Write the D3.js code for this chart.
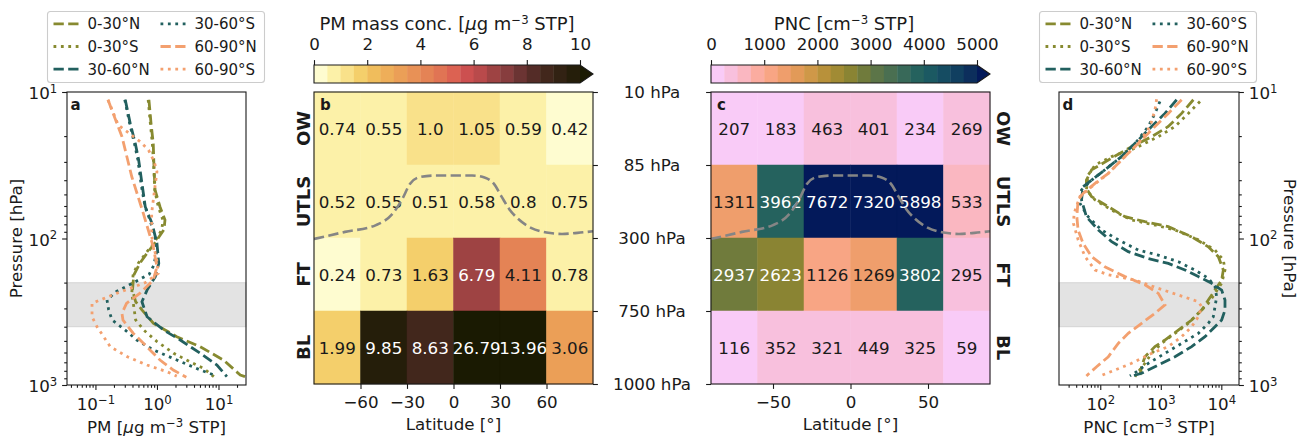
<!DOCTYPE html>
<html>
<head>
<meta charset="utf-8">
<script src="https://cdn.jsdelivr.net/npm/d3@7"></script>
<style>
  body { margin: 0; background: #fff; }
  text { font-family: "DejaVu Sans", sans-serif; }
</style>
</head>
<body>
<svg id="fig" width="1299" height="437"></svg>
<script>
// ---- data ----
const latEdges = [-90, -60, -30, 0, 30, 60, 90];
const layerNames = ['OW', 'UTLS', 'FT', 'BL'];
const layerEdges = [10, 85, 300, 750, 1000];
const layerLabels = ['10 hPa', '85 hPa', '300 hPa', '750 hPa', '1000 hPa'];

// rows OW, UTLS, FT, BL; columns 90S..90N in 30 deg bins
const pmGrid = [
  [0.74, 0.55, 1.0, 1.05, 0.59, 0.42],
  [0.52, 0.55, 0.51, 0.58, 0.8, 0.75],
  [0.24, 0.73, 1.63, 6.79, 4.11, 0.78],
  [1.99, 9.85, 8.63, 26.79, 13.96, 3.06]
];
const pncGrid = [
  [207, 183, 463, 401, 234, 269],
  [1311, 3962, 7672, 7320, 5898, 533],
  [2937, 2623, 1126, 1269, 3802, 295],
  [116, 352, 321, 449, 325, 59]
];

// tropopause [lat, hPa]
const tropopause = [[-90, 306], [-70, 282], [-50, 262], [-40, 232], [-33, 185], [-28, 140], [-22, 121],
  [-12, 116], [0, 116], [12, 116], [20, 122], [26, 140], [31, 178], [36, 215], [42, 245], [50, 270],
  [60, 284], [70, 288], [80, 285], [90, 280]];

const regions = ['0-30°N', '0-30°S', '30-60°N', '30-60°S', '60-90°N', '60-90°S'];
const bandP = [200, 400];

// PM profiles [hPa, ug m-3]
const pm0_30N = [[11.3, 0.74], [16.3, 0.8], [22.4, 0.87], [30.5, 0.89], [46.6, 0.93], [60.7, 1.12], [74.8, 1.35], [87, 1.3],
  [107, 0.93], [126, 0.69], [147, 0.53], [178, 0.42], [225, 0.4], [270, 0.45], [307, 0.57], [380, 0.88], [468, 2.1],
  [547, 5.0], [675, 12], [855, 22.6], [877, 27]];
const pm0_30S = [[11.3, 0.72], [16.3, 0.78], [22.4, 0.84], [30.5, 0.88], [46.6, 0.92], [60.7, 1.05], [74.8, 1.25], [87, 1.2],
  [107, 0.9], [126, 0.66], [147, 0.5], [175, 0.41], [237, 0.39], [292, 0.42], [359, 0.45], [422, 0.61], [505, 1.0],
  [608, 1.87], [697, 3.5], [770, 5.7], [877, 8.4]];
const pm30_60N = [[11.3, 0.305], [16.4, 0.368], [22.4, 0.444], [29.1, 0.504], [42, 0.57], [60.7, 0.645], [78.8, 0.83],
  [108, 1.0], [148, 1.07], [182, 0.94], [225, 0.69], [270, 0.57], [342, 0.69], [422, 1.29], [493, 2.39], [608, 5.06],
  [731, 9.43], [877, 13.7]];
const pm30_60S = [[11.3, 0.3], [16.4, 0.36], [22.4, 0.43], [29, 0.49], [42, 0.55], [60.7, 0.64], [74.8, 0.77], [97, 0.93],
  [120, 1.0], [152, 0.89], [175, 0.75], [200, 0.42], [230, 0.22], [262, 0.154], [307, 0.164], [359, 0.186], [422, 0.305],
  [493, 0.47], [577, 0.88], [675, 2.1], [790, 5.06], [868, 9.4]];
const pm60_90N = [[11.3, 0.16], [20.2, 0.27], [37.9, 0.39], [67.3, 0.6], [114, 0.87], [156, 1.0], [192, 0.87], [236, 0.53],
  [277, 0.32], [324, 0.27], [360, 0.28], [443, 0.41], [547, 0.68], [675, 1.12], [790, 1.84], [886, 3.0]];
const pm60_90S = [[11.3, 0.16], [16.8, 0.235], [21.8, 0.53], [24.9, 0.73], [29.9, 0.9], [35, 1.0], [44, 0.93], [67, 0.82],
  [97, 0.82], [140, 0.99], [173, 1.05], [200, 0.65], [237, 0.22], [277, 0.088], [342, 0.088], [400, 0.106], [547, 0.174],
  [641, 0.33], [731, 0.69], [811, 1.45], [870, 2.1]];

// PNC profiles [hPa, cm-3]
const pnc0_30N = [[11.3, 3450], [14, 2210], [17.2, 1330], [20.2, 705], [23.6, 330], [29.1, 136], [34, 72], [39.9, 59],
  [45.5, 59], [51.8, 72], [60.7, 136], [71, 256], [76.8, 547], [83, 1330], [97.2, 3235], [114, 6100], [133, 8920],
  [164, 10800], [192, 10130], [225, 7860], [263, 6100], [308, 4730], [360, 3235], [422, 1946], [493, 1172], [547, 801],
  [641, 547], [750, 482], [855, 453]];
const pnc0_30S = [[11.6, 4440], [14, 2850], [17.2, 1715], [20.2, 910], [24.2, 374], [27.6, 154], [31.5, 82], [36.9, 63],
  [46.6, 59], [54.6, 82], [63.9, 154], [74.8, 330], [80.9, 801], [87.5, 1715], [102, 4170], [120, 7860], [140, 10800],
  [164, 11500], [202, 10130], [237, 7860], [277, 6100], [324, 4170], [379, 2850], [444, 1715], [520, 1032], [608, 705],
  [711, 547], [811, 425], [877, 374]];
const pnc30_60N = [[11.3, 1830], [14, 1172], [17.2, 705], [21.3, 425], [27.6, 225], [34, 119], [39.9, 72], [44.3, 52],
  [54.6, 49], [71, 59], [87.5, 93], [105, 154], [123, 290], [137, 621], [148, 1330], [164, 2510], [182, 4170],
  [202, 6920], [225, 10130], [263, 11500], [308, 11500], [360, 10130], [400, 7860], [468, 5370], [547, 3235],
  [641, 1715], [730, 910], [832, 482], [877, 309]];
const pnc30_60S = [[11.6, 968], [14, 801], [17.2, 621], [21.8, 399], [27.6, 225], [34, 119], [39.9, 72], [46.6, 49],
  [57.5, 46], [71, 63], [87.5, 105], [102, 198], [120, 425], [130, 910], [144, 1946], [164, 3670], [187, 6100],
  [213, 7860], [250, 8370], [292, 7860], [342, 7380], [379, 6100], [444, 4170], [520, 2210], [608, 1172], [711, 621],
  [811, 399], [867, 309]];
const pnc60_90N = [[11.3, 2210], [14, 1330], [17.2, 801], [21.3, 482], [27.6, 256], [35.9, 136], [42, 82], [49.2, 52],
  [54.6, 43], [71, 41], [87.5, 43], [108, 52], [133, 72], [156, 119], [182, 256], [207, 547], [237, 910], [284, 1172],
  [324, 801], [379, 482], [444, 290], [520, 198], [641, 136], [750, 87], [867, 59]];
const pnc60_90S = [[11.2, 853], [13.3, 801], [17.2, 662], [22.4, 425], [27.6, 256], [35.9, 136], [44.3, 72], [51.8, 46],
  [67.3, 37], [78.8, 36], [102, 43], [133, 56], [164, 82], [177, 136], [192, 374], [219, 910], [243, 1946], [270, 4170],
  [292, 4730], [342, 4170], [400, 3235], [468, 2210], [547, 1330], [608, 705], [711, 330], [790, 175], [877, 93]];

// ---- styling ----
const INK = '#1a1a1a';
const FS = 16.7;
const olive = '#878a30', teal = '#22605f', salmon = '#f3a06f';
const regionColor = [olive, olive, teal, teal, salmon, salmon];
const DASHED = '10.3,4.4', DOTTED = '2.8,4.6';
const regionDash = [DASHED, DOTTED, DASHED, DOTTED, DASHED, DOTTED];

const pmColors = ['#fefcd0', '#fcf1a8', '#f9e18a', '#f4cf6b', '#f0bd5c', '#eeae59', '#eb9f57', '#e89156', '#e48355',
  '#e07454', '#dc6252', '#cc5050', '#b94a4b', '#9e4343', '#873d3e', '#6b3433', '#542c27', '#42271c', '#322213',
  '#251e0a', '#1a1a02'];
const pncColors = ['#f9cbf7', '#f8c0dd', '#fab7c1', '#fbaca0', '#f8a584', '#ef9e6c', '#e29a58', '#cf9848', '#b8913a',
  '#a18b34', '#8a8433', '#707b3c', '#5c7548', '#4a6f51', '#386959', '#25625e', '#1b5962', '#154c62', '#103f60',
  '#0c2e5c', '#03195a'];

const svg = d3.select('#fig');

function styleAxis(g) {
  g.attr('font-family', '"DejaVu Sans", sans-serif').attr('font-size', FS).style('color', INK);
  g.select('.domain').remove();
  g.selectAll('.tick line').attr('stroke-width', 1.1);
}

function powLabels(g) {
  g.selectAll('.tick text').each(function (d) {
    const t = d3.select(this);
    const e = Math.round(Math.log10(d));
    t.text(null);
    t.append('tspan').text('10');
    t.append('tspan').attr('dy', '-0.55em').attr('font-size', '0.7em').text(String(e).replace('-', '\u2212'));
  });
}

function minorLogTicks(lo, hi) {
  const out = [];
  for (let e = Math.floor(Math.log10(lo)); e <= Math.ceil(Math.log10(hi)); e++) {
    for (let m = 2; m <= 9; m++) {
      const v = m * Math.pow(10, e);
      if (v >= lo && v <= hi) out.push(v);
    }
  }
  return out;
}

// unit label with a "-3" superscript
function unitLabel(sel, pre, mu, mid, post) {
  sel.append('tspan').text(pre);
  if (mu) sel.append('tspan').attr('font-style', 'italic').text('\u03bc');
  sel.append('tspan').text(mid);
  sel.append('tspan').attr('dy', -6.5).attr('font-size', FS * 0.7).text('\u22123');
  sel.append('tspan').attr('dy', 6.5).text(post);
}

// ---- profile panels (a, d) ----
function profilePanel(opt) {
  const { left, right, top, bottom, xDomain, series, side, xMajors, letter, xlabel } = opt;
  const x = d3.scaleLog().domain(xDomain).range([left, right]);
  const y = d3.scaleLog().domain([10, 1000]).range([top, bottom]);
  const g = svg.append('g');

  const clipId = 'clip' + letter;
  svg.append('clipPath').attr('id', clipId).append('rect')
    .attr('x', left).attr('y', top).attr('width', right - left).attr('height', bottom - top);

  g.append('rect')
    .attr('x', left).attr('width', right - left)
    .attr('y', y(bandP[0])).attr('height', y(bandP[1]) - y(bandP[0]))
    .attr('fill', '#808080').attr('fill-opacity', 0.22)
    .attr('stroke', '#808080').attr('stroke-opacity', 0.2).attr('stroke-width', 1.2);

  const line = d3.line().x(d => x(d[1])).y(d => y(d[0]));
  g.append('g').attr('clip-path', `url(#${clipId})`)
    .selectAll('path').data(series).join('path')
    .attr('d', d => line(d))
    .attr('fill', 'none')
    .attr('stroke', (d, i) => regionColor[i])
    .attr('stroke-dasharray', (d, i) => regionDash[i])
    .attr('stroke-width', 2.8);

  // x axis
  const xMaj = g.append('g').attr('transform', `translate(0,${bottom})`)
    .call(d3.axisBottom(x).tickValues(xMajors).tickSize(4.9).tickPadding(8.2));
  styleAxis(xMaj);
  powLabels(xMaj);
  const xMin = g.append('g').attr('transform', `translate(0,${bottom})`)
    .call(d3.axisBottom(x).tickValues(minorLogTicks(xDomain[0], xDomain[1])).tickSize(2.8).tickFormat(''));
  styleAxis(xMin);

  // y axis
  const yAx = side === 'left' ? d3.axisLeft(y) : d3.axisRight(y);
  const yx = side === 'left' ? left : right;
  const yMaj = g.append('g').attr('transform', `translate(${yx},0)`)
    .call(yAx.tickValues([10, 100, 1000]).tickSize(4.9).tickPadding(4.9));
  styleAxis(yMaj);
  yMaj.selectAll('.tick text').attr('dy', '0.4em');
  powLabels(yMaj);
  const yAx2 = side === 'left' ? d3.axisLeft(y) : d3.axisRight(y);
  const yMin = g.append('g').attr('transform', `translate(${yx},0)`)
    .call(yAx2.tickValues(minorLogTicks(10, 1000)).tickSize(2.8).tickFormat(''));
  styleAxis(yMin);

  g.append('rect').attr('x', left).attr('y', top).attr('width', right - left).attr('height', bottom - top)
    .attr('fill', 'none').attr('stroke', INK).attr('stroke-width', 1.1);

  g.append('text').attr('x', left + 3.5).attr('y', top + 18).attr('font-weight', 'bold')
    .attr('font-size', 15).attr('fill', INK).text(letter);

  const xl = g.append('text').attr('x', (left + right) / 2).attr('y', 433)
    .attr('text-anchor', 'middle').attr('font-size', FS).attr('fill', INK);
  xlabel(xl);

  const ylx = side === 'left' ? 22 : 1284;
  g.append('text')
    .attr('transform', `translate(${ylx},${(top + bottom) / 2}) rotate(${side === 'left' ? -90 : 90})`)
    .attr('text-anchor', 'middle').attr('font-size', FS).attr('fill', INK)
    .text('Pressure [hPa]');
}

// ---- heatmap panels (b, c) ----
const HT = 92, HB = 384;
const yLayer = d3.scaleLinear().domain(layerEdges).range(d3.range(5).map(i => HT + i * (HB - HT) / 4));

function heatPanel(opt) {
  const { left, right, grid, colors, vmax, fmt, xTicks, letter, side } = opt;
  const x = d3.scaleLinear().domain([-90, 90]).range([left, right]);
  const color = d3.scaleThreshold().domain(d3.range(1, 21).map(i => i * vmax / 20)).range(colors);
  const g = svg.append('g');

  const cells = [];
  grid.forEach((row, r) => row.forEach((v, c) => cells.push({ r, c, v })));

  g.selectAll('rect.cell').data(cells).join('rect')
    .attr('class', 'cell')
    .attr('x', d => x(latEdges[d.c]))
    .attr('width', d => x(latEdges[d.c + 1]) - x(latEdges[d.c]))
    .attr('y', d => yLayer(layerEdges[d.r]))
    .attr('height', d => yLayer(layerEdges[d.r + 1]) - yLayer(layerEdges[d.r]))
    .attr('fill', d => color(d.v))
    .attr('stroke', d => color(d.v)).attr('stroke-width', 0.5);

  g.selectAll('text.val').data(cells).join('text')
    .attr('class', 'val')
    .attr('x', d => (x(latEdges[d.c]) + x(latEdges[d.c + 1])) / 2)
    .attr('y', d => (yLayer(layerEdges[d.r]) + yLayer(layerEdges[d.r + 1])) / 2)
    .attr('dy', '0.36em')
    .attr('text-anchor', 'middle').attr('font-size', FS)
    .attr('fill', d => d.v > vmax / 2 ? '#ffffff' : INK)
    .text(d => fmt(d.v));

  svg.append('clipPath').attr('id', 'clip' + letter).append('rect')
    .attr('x', left).attr('y', HT).attr('width', right - left).attr('height', HB - HT);
  const tp = d3.line().x(d => x(d[0])).y(d => yLayer(d[1])).curve(d3.curveMonotoneX);
  g.append('path').attr('clip-path', `url(#clip${letter})`)
    .attr('d', tp(tropopause)).attr('fill', 'none')
    .attr('stroke', '#858585').attr('stroke-width', 2.6).attr('stroke-dasharray', '10.3,4.4');

  const xa = g.append('g').attr('transform', `translate(0,${HB})`)
    .call(d3.axisBottom(x).tickValues(xTicks).tickSize(4.9).tickPadding(7));
  styleAxis(xa);

  const ya = side === 'right'
    ? d3.axisRight(yLayer).tickValues(layerEdges).tickSize(4.9).tickFormat('')
    : d3.axisLeft(yLayer).tickValues(layerEdges).tickSize(4.9).tickFormat('');
  const yg = g.append('g').attr('transform', `translate(${side === 'right' ? right : left},0)`).call(ya);
  styleAxis(yg);

  g.append('rect').attr('x', left).attr('y', HT).attr('width', right - left).attr('height', HB - HT)
    .attr('fill', 'none').attr('stroke', INK).attr('stroke-width', 1.1);

  g.append('text').attr('x', left + 6).attr('y', HT + 18).attr('font-weight', 'bold')
    .attr('font-size', 15).attr('fill', INK).text(letter);

  g.append('text').attr('x', (left + right) / 2).attr('y', 430)
    .attr('text-anchor', 'middle').attr('font-size', FS).attr('fill', INK).text('Latitude [°]');

  g.selectAll('text.layer').data(layerNames).join('text')
    .attr('class', 'layer')
    .attr('transform', (d, i) => {
      const cy = (yLayer(layerEdges[i]) + yLayer(layerEdges[i + 1])) / 2;
      return side === 'right'
        ? `translate(${left - 4},${cy}) rotate(-90)`
        : `translate(${right + 7},${cy}) rotate(90)`;
    })
    .attr('text-anchor', 'middle').attr('font-weight', 'bold').attr('font-size', 18).attr('fill', INK)
    .text(d => d);
}

// ---- colorbars ----
function colorbar(opt) {
  const { left, right, tip, vmax, colors, ticks, title } = opt;
  const top = 65, bot = 83, mid = (top + bot) / 2;
  const s = d3.scaleLinear().domain([0, vmax]).range([left, right]);
  const g = svg.append('g');
  const step = vmax / 20;
  g.selectAll('rect').data(d3.range(20)).join('rect')
    .attr('x', i => s(i * step)).attr('width', s(step) - s(0) + 0.4)
    .attr('y', top).attr('height', bot - top)
    .attr('fill', i => colors[i]);
  g.append('path').attr('d', `M${right},${top}L${tip},${mid}L${right},${bot}Z`).attr('fill', colors[20]);
  g.append('path').attr('d', `M${left},${top}H${right}L${tip},${mid}L${right},${bot}H${left}Z`)
    .attr('fill', 'none').attr('stroke', INK).attr('stroke-width', 1.1);
  const ax = g.append('g').attr('transform', `translate(0,${top})`)
    .call(d3.axisTop(s).tickValues(ticks).tickSize(4.9).tickPadding(10).tickFormat(d3.format('d')));
  styleAxis(ax);
  const t = g.append('text').attr('x', (left + right) / 2).attr('y', 30)
    .attr('text-anchor', 'middle').attr('font-size', 18).attr('fill', INK);
  title(t);
}

// ---- legends ----
function legend(x0, y0) {
  const g = svg.append('g');
  g.append('rect').attr('x', x0).attr('y', y0).attr('width', 217).attr('height', 71).attr('rx', 3)
    .attr('fill', '#fff').attr('fill-opacity', 0.8).attr('stroke', '#cccccc').attr('stroke-width', 1.1);
  const items = regions.map((r, i) => ({ r, i, col: Math.floor(i / 3), row: i % 3 }));
  const it = g.selectAll('g.item').data(items).join('g')
    .attr('class', 'item')
    .attr('transform', d => `translate(${x0 + 6 + d.col * 107},${y0 + 12.3 + d.row * 22.7})`);
  it.append('line').attr('x1', 0).attr('x2', 28).attr('y1', 0).attr('y2', 0)
    .attr('stroke', d => regionColor[d.i]).attr('stroke-dasharray', d => regionDash[d.i])
    .attr('stroke-width', 2.8);
  it.append('text').attr('x', 34).attr('y', 0).attr('dy', '0.36em')
    .attr('font-size', 15).attr('fill', INK).text(d => d.r);
}

// ---- draw ----
profilePanel({
  left: 67, right: 246, top: 92, bottom: 385, xDomain: [0.0345, 28], side: 'left', letter: 'a',
  xMajors: [0.1, 1, 10],
  series: [pm0_30N, pm0_30S, pm30_60N, pm30_60S, pm60_90N, pm60_90S],
  xlabel: t => unitLabel(t, 'PM [', true, 'g m', ' STP]')
});
profilePanel({
  left: 1059, right: 1239, top: 92, bottom: 385, xDomain: [20.8, 19600], side: 'right', letter: 'd',
  xMajors: [100, 1000, 10000],
  series: [pnc0_30N, pnc0_30S, pnc30_60N, pnc30_60S, pnc60_90N, pnc60_90S],
  xlabel: t => unitLabel(t, 'PNC [', false, 'cm', ' STP]')
});

heatPanel({
  left: 314, right: 593, grid: pmGrid, colors: pmColors, vmax: 10, letter: 'b', side: 'right',
  xTicks: [-60, -30, 0, 30, 60],
  fmt: v => Number.isInteger(v) ? v.toFixed(1) : String(v)
});
heatPanel({
  left: 711, right: 990, grid: pncGrid, colors: pncColors, vmax: 5000, letter: 'c', side: 'left',
  xTicks: [-50, 0, 50],
  fmt: v => String(v)
});

// pressure labels between b and c
svg.append('g').selectAll('text').data(layerLabels).join('text')
  .attr('x', 652).attr('y', (d, i) => yLayer(layerEdges[i])).attr('dy', '0.36em')
  .attr('text-anchor', 'middle').attr('font-size', FS).attr('fill', INK)
  .text(d => d);

colorbar({
  left: 314, right: 580, tip: 593, vmax: 10, colors: pmColors, ticks: [0, 2, 4, 6, 8, 10],
  title: t => unitLabel(t, 'PM mass conc. [', true, 'g m', ' STP]')
});
colorbar({
  left: 711, right: 977, tip: 990, vmax: 5000, colors: pncColors, ticks: [0, 1000, 2000, 3000, 4000, 5000],
  title: t => unitLabel(t, 'PNC [', false, 'cm', ' STP]')
});

legend(47.5, 11.5);
legend(1039.5, 11.5);
</script>
</body>
</html>
